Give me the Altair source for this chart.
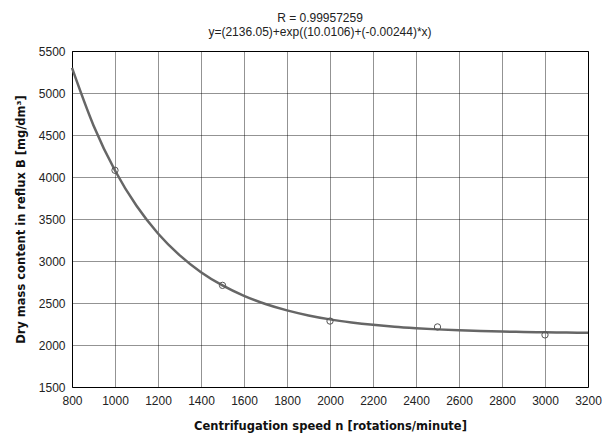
import altair as alt
import pandas as pd

# Measured points
pt_x = [1000, 1500, 2000, 2500, 3000]
pt_y = [4080, 2710, 2285, 2215, 2120]

# Fitted curve
curve_x = [800, 900, 1000, 1100, 1200, 1300, 1400, 1500, 1600, 1700, 1800, 1900,
           2000, 2100, 2200, 2300, 2400, 2500, 2600, 2700, 2800, 2900, 3000, 3100, 3200]
curve_y = [5299, 4614, 4077, 3657, 3328, 3070, 2867, 2709, 2585, 2488, 2412, 2352,
           2305, 2269, 2240, 2217, 2200, 2186, 2175, 2167, 2160, 2155, 2151, 2148, 2145]

x_ticks = [800, 1000, 1200, 1400, 1600, 1800, 2000, 2200, 2400, 2600, 2800, 3000, 3200]
y_ticks = [1500, 2000, 2500, 3000, 3500, 4000, 4500, 5000, 5500]

title_lines = ["R = 0.99957259", "y=(2136.05)+exp((10.0106)+(-0.00244)*x)"]

pts = pd.DataFrame({"x": pt_x, "y": pt_y})
crv = pd.DataFrame({"x": curve_x, "y": curve_y})

FONT = "Liberation Sans"

xscale = alt.Scale(domain=[800, 3200], nice=False, zero=False)
yscale = alt.Scale(domain=[1500, 5500], nice=False, zero=False)

xaxis = alt.Axis(values=x_ticks, format="d", title="Centrifugation speed n [rotations/minute]",
                 grid=True, gridColor="#000", gridDash=[1, 1], gridOpacity=0.85,
                 ticks=False, domain=False, labelFont=FONT, labelFontSize=12,
                 labelColor="#222", labelPadding=8, labelFlush=False,
                 titleFont="DejaVu Sans", titleFontSize=11.5, titleFontWeight="bold",
                 titleColor="#111", titlePadding=14)
yaxis = alt.Axis(values=y_ticks, format="d", title="Dry mass content in reflux B [mg/dm³]",
                 grid=True, gridColor="#000", gridDash=[1, 1], gridOpacity=0.85,
                 ticks=False, domain=False, labelFont=FONT, labelFontSize=12,
                 labelColor="#222", labelPadding=7, labelFlush=False,
                 titleFont="DejaVu Sans", titleFontSize=11.5, titleFontWeight="bold",
                 titleColor="#111", titleX=-51, titleY=168, titleAngle=-90,
                 titleAlign="center", titleBaseline="middle")

line = alt.Chart(crv).mark_line(color="#666", strokeWidth=2.5, interpolate="monotone").encode(
    x=alt.X("x:Q", scale=xscale, axis=xaxis),
    y=alt.Y("y:Q", scale=yscale, axis=yaxis),
)

points = alt.Chart(pts).mark_point(shape="circle", filled=False, color="#555",
                                   size=40, strokeWidth=1, opacity=1).encode(
    x=alt.X("x:Q", scale=xscale),
    y=alt.Y("y:Q", scale=yscale),
)

chart = alt.layer(line, points).properties(
    width=516,
    height=336,
    autosize=alt.AutoSizeParams(type="none"),
    padding={"left": 64, "top": 43, "right": 16, "bottom": 47},
    title=alt.TitleParams(text=title_lines, font=FONT, fontSize=12,
                          fontWeight="normal", color="#222", anchor="middle",
                          lineHeight=14, offset=6, frame="group", dx=-10),
).configure_view(stroke="#000", strokeWidth=1)

chart.save("out.html", embed_options={"renderer": "svg", "actions": False})
